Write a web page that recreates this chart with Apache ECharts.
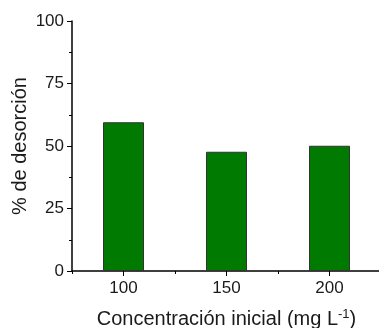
<!DOCTYPE html>
<html>
<head>
<meta charset="utf-8">
<script src="https://cdn.jsdelivr.net/npm/echarts@6/dist/echarts.min.js"></script>
<style>
html,body{margin:0;padding:0;background:#fff;}
#c{width:379px;height:328px;}
</style>
</head>
<body>
<div id="c"></div>
<script>
const categories = ['100', '150', '200'];
const desorcion = [59.5, 47.7, 50.1];
const yTicks = [0, 25, 50, 75, 100];

const font = '"Liberation Sans", Arial, sans-serif';
const chart = echarts.init(document.getElementById('c'), null, {renderer: 'canvas'});
chart.setOption({
  animation: false,
  grid: {left: 72, top: 21, width: 309, height: 250, containLabel: false, outerBoundsMode: 'none'},
  xAxis: [{
    type: 'category',
    data: categories,
    name: 'Concentración inicial (mg L{sup|-1})',
    nameLocation: 'middle',
    nameGap: 37,
    nameTextStyle: {
      color: '#1a1a1a', fontFamily: font, fontSize: 20,
      rich: {sup: {fontSize: 13, fontFamily: font, color: '#1a1a1a', padding: [0, 0, 10, 0]}}
    },
    axisLine: {show: true, lineStyle: {color: '#000', width: 1.5}},
    axisTick: {show: true, alignWithLabel: true, length: 5, lineStyle: {color: '#000', width: 1}},
    axisLabel: {color: '#1a1a1a', fontFamily: font, fontSize: 17, margin: 9},
    splitLine: {show: false}
  }, {
    type: 'category',
    data: categories,
    position: 'bottom',
    axisLine: {show: false},
    axisTick: {show: true, length: 3, lineStyle: {color: '#000', width: 1}},
    axisLabel: {show: false},
    splitLine: {show: false}
  }],
  yAxis: {
    type: 'value',
    min: yTicks[0],
    max: yTicks[yTicks.length - 1],
    interval: 25,
    name: '% de desorción',
    nameLocation: 'middle',
    nameGap: 42,
    nameMoveOverlap: false,
    nameRotate: 90,
    nameTextStyle: {color: '#1a1a1a', fontFamily: font, fontSize: 20},
    axisLine: {show: true, lineStyle: {color: '#000', width: 1.5}},
    axisTick: {show: true, length: 5, lineStyle: {color: '#000', width: 1}},
    minorTick: {show: true, splitNumber: 2, length: 3, lineStyle: {color: '#000', width: 1}},
    axisLabel: {color: '#1a1a1a', fontFamily: font, fontSize: 17, margin: 8},
    splitLine: {show: false},
    minorSplitLine: {show: false}
  },
  series: [{
    type: 'bar',
    data: desorcion,
    barWidth: 41,
    itemStyle: {color: '#007a00', borderColor: '#333', borderWidth: 1}
  }]
});
</script>
</body>
</html>
